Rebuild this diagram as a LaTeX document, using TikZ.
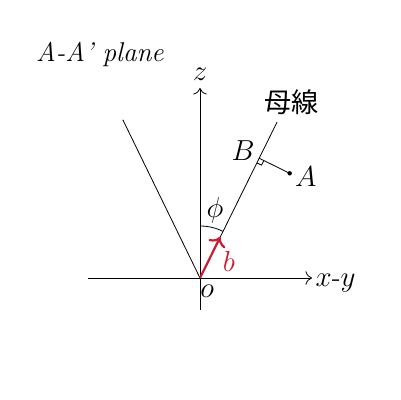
\documentclass[tikz,border=0pt,11pt]{standalone}
\usepackage{fontspec}
\newfontfamily\cjk{Noto Sans CJK JP}
\usetikzlibrary{calc,arrows.meta}
\definecolor{vecred}{RGB}{200,30,50}
\begin{document}
\begin{tikzpicture}[x=0.7cm,y=0.7cm,>={To[scale=1.3]},
  every node/.style={font=\fontsize{13.5}{16}\selectfont}]
\useasboundingbox (-5,-3.05) rectangle (5,6.95);
\coordinate (O) at (0,0);
\coordinate (Top) at (63.7:4.35);
\coordinate (Left) at (116:4.4);
\coordinate (B) at (63.7:3.34);
\coordinate (A) at ($(B)+(-26.3:0.85)$);
\coordinate (zlow) at (0,-0.8);
\coordinate (zup) at (0,4.75);
\coordinate (xlow) at (-2.8,0);
\coordinate (xup) at (2.8,0);
% axes
\draw [->] (zlow)--(zup) node[above=0pt] (zlbl) {$z$};
\draw [->] (xlow)--(xup) node[right=-2pt,yshift=-2.5pt] (xlbl) {$x$-$y$};
% generating lines
\draw (O)--(Top) node[above=0pt,xshift=7pt] (gen) {\cjk 母線};
\draw (O)--(Left);
% perpendicular from A
\draw (B)--(A);
\fill (A) circle (1.1pt);
\draw ($(B)+(243.7:0.13)$) -- ++(-26.3:0.13) -- ($(B)+(-26.3:0.13)$);
\node (lblA) at ($(A)+(0.4,-0.08)$) {$A$};
\node (lblB) at (1.075,3.175) {$B$};
% angle
\draw ($(O)+(90:1.3)$) arc[start angle=90,end angle=63.7,radius=1.3];
\node (phi) at (0.375,1.7) {$\phi$};
% vector b
\draw [-{To[scale=1.1]},line width=1.1pt,vecred] (O)--(63.7:1.15);
\node [vecred] (lblb) at (0.725,0.425) {$b$};
\node (lblo) at (0.18,-0.33) {$o$};
\node (title) at (-2.5,5.6) {\textit{A-A’ plane}};
\end{tikzpicture}
\end{document}
